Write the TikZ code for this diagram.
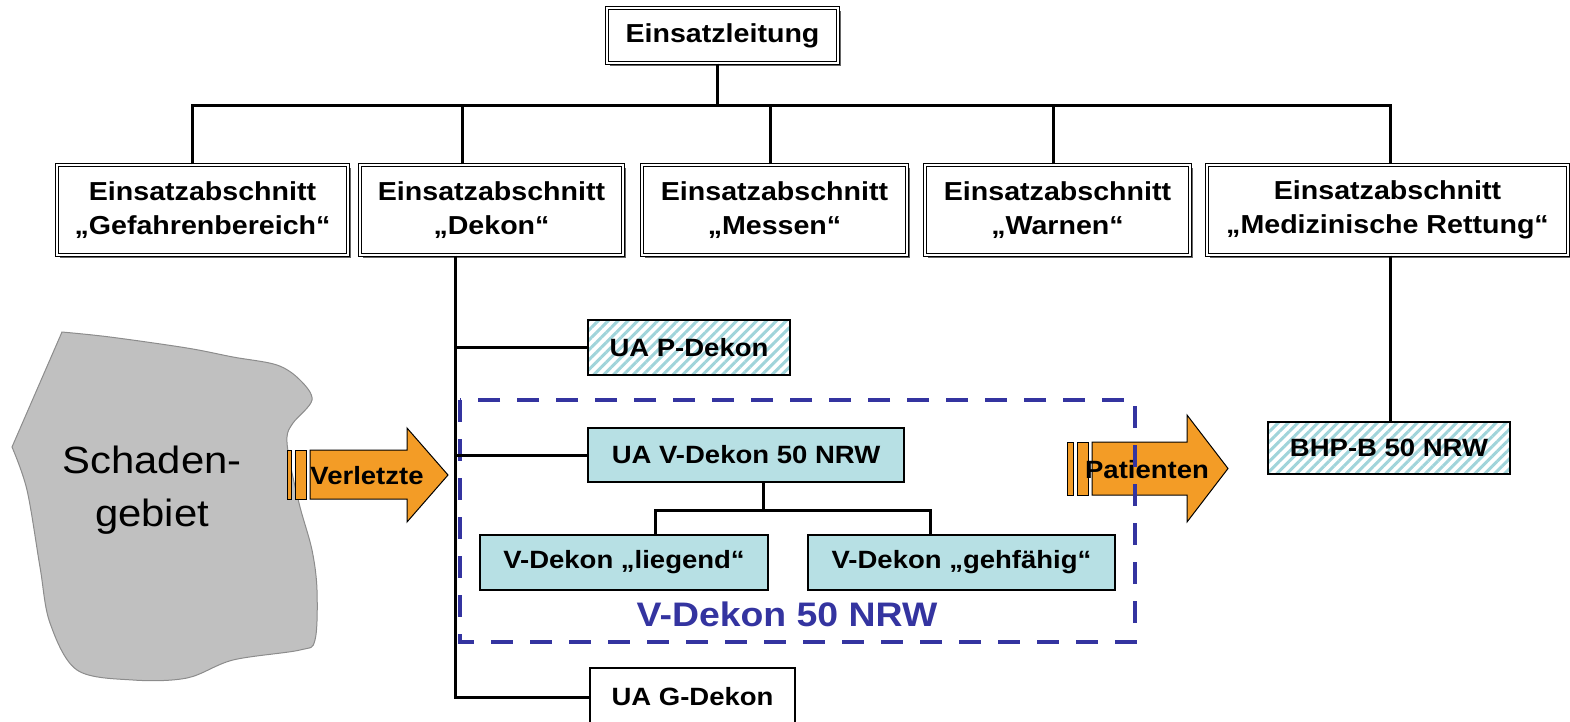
\documentclass[tikz,border=0pt]{standalone}
\usepackage{fontspec}
\setmainfont[FakeStretch=1.1]{Liberation Sans}
\usepackage{tikz}
\usetikzlibrary{patterns.meta,shadows}
\usepackage{xcolor}

\definecolor{uacyan}{RGB}{183,224,228}
\definecolor{hatchcyan}{RGB}{160,212,218}
\definecolor{arroworange}{RGB}{243,156,38}
\definecolor{areagray}{RGB}{192,192,192}
\definecolor{dekonblue}{RGB}{52,52,160}

\tikzset{
  conn/.style={line width=3pt},
  secbox/.style={draw, double=white, double distance=1.2pt, line width=1.2pt, fill=white,
    align=center, inner sep=0pt, font=\bfseries\fontsize{26}{34}\selectfont,
    drop shadow={shadow xshift=3pt, shadow yshift=-3pt, fill=black!60, opacity=1}},
  uabox/.style={draw, line width=1.4pt, fill=uacyan, inner sep=0pt,
    font=\bfseries\fontsize{25}{30}\selectfont},
  hatchbox/.style={uabox, fill=white, pattern={Lines[angle=45, distance=7pt, line width=3pt]},
    pattern color=hatchcyan},
  arrowbody/.style={draw, line width=1pt, fill=arroworange},
  arrowtext/.style={font=\bfseries\fontsize{25}{30}\selectfont, inner sep=0pt}
}

\begin{document}
\begin{tikzpicture}[x=1pt, y=-1pt]
  \useasboundingbox (0,0) rectangle (1570,721);

  % damage area
  \draw[fill=areagray, draw=black!45, line width=1pt] (12,447) -- plot[smooth, tension=0.55] coordinates {
    (62,332) (110,337) (187,348) (233,357) (277,365) (300,380) (312,400) (293,423) (287,437)
    (290,463) (300,507) (312,550) (317,590) (315,640) (300,650) (233,660) (187,678) (133,680)
    (77,670) (50,623) (40,567) (27,490) (12,447)} -- cycle;
  \node[font=\fontsize{38}{53}\selectfont, align=center, inner sep=0pt] (schaden) at (152,490) {Schaden-\\gebiet};

  % arrows
  \draw[arrowbody] (287,450) rectangle (291,499);
  \draw[arrowbody] (295,450) rectangle (306,499);
  \draw[arrowbody] (310,450) -- (407,450) -- (407,428) -- (448,475) -- (407,522) -- (407,499) -- (310,499) -- cycle;
  \node[arrowtext] (verletzte) at (367,476) {Verletzte};

  \draw[arrowbody] (1067,442) rectangle (1073,495);
  \draw[arrowbody] (1077,442) rectangle (1088,495);
  \draw[arrowbody] (1092,442) -- (1187,442) -- (1187,415) -- (1228,468.5) -- (1187,522) -- (1187,495) -- (1092,495) -- cycle;
  \node[arrowtext] (patienten) at (1147,470) {Patienten};

  % V-Dekon frame
  \draw[dekonblue, line width=4pt, dash pattern=on 22pt off 17pt] (460,400) rectangle (1135,642);
  \node[text=dekonblue, font=\bfseries\fontsize{34}{40}\selectfont, inner sep=0pt] (vlabel) at (787,614) {V-Dekon 50 NRW};

  % boxes
  \node[secbox, minimum width=231pt, minimum height=55pt] (leitung) at (722.5,35.5) {Einsatzleitung};
  \node[secbox, minimum width=291pt, minimum height=90pt] (abs1) at (202.5,210) {Einsatzabschnitt\\„Gefahrenbereich“};
  \node[secbox, minimum width=263pt, minimum height=90pt] (abs2) at (491.5,210) {Einsatzabschnitt\\„Dekon“};
  \node[secbox, minimum width=265pt, minimum height=90pt] (abs3) at (774.5,210) {Einsatzabschnitt\\„Messen“};
  \node[secbox, minimum width=265pt, minimum height=90pt] (abs4) at (1057.5,210) {Einsatzabschnitt\\„Warnen“};
  \node[secbox, minimum width=361pt, minimum height=90pt] (abs5) at (1387.5,210) {Einsatzabschnitt\\„Medizinische Rettung“};

  \node[hatchbox, minimum width=202pt, minimum height=55pt] (pdekon) at (689,347.5) {UA P-Dekon};
  \node[uabox, minimum width=316pt, minimum height=54pt] (vdekon) at (746,455) {UA V-Dekon 50 NRW};
  \node[uabox, minimum width=288pt, minimum height=55pt] (liegend) at (624,562.5) {V-Dekon „liegend“};
  \node[uabox, minimum width=307pt, minimum height=55pt] (gehf) at (961.5,562.5) {V-Dekon „gehfähig“};
  \node[uabox, fill=white, minimum width=205pt, minimum height=58pt] (gdekon) at (692.5,697) {UA G-Dekon};
  \node[hatchbox, minimum width=242pt, minimum height=52pt] (bhp) at (1389,448) {BHP-B 50 NRW};

  % tree lines
  \coordinate (bar) at (192,105);
  \coordinate (barend) at (1390,105);
  \draw[conn] ([xshift=-5.5pt]leitung.south) -- ([xshift=-5.5pt]leitung.south |- bar);
  \draw[conn] (abs1.north -| bar) -- (bar) -- (barend) -- (abs5.north -| barend);
  \draw[conn] ([xshift=-29.5pt]abs2.north) -- ([xshift=-29.5pt]abs2.north |- bar);
  \draw[conn] ([xshift=-4.5pt]abs3.north) -- ([xshift=-4.5pt]abs3.north |- bar);
  \draw[conn] ([xshift=-4.5pt]abs4.north) -- ([xshift=-4.5pt]abs4.north |- bar);
  \draw[conn] (abs5.south -| barend) -- (bhp.north -| barend);

  \coordinate (trunk) at ([xshift=-36.5pt]abs2.south);
  \draw[conn] (trunk) |- (gdekon.west);
  \draw[conn] (trunk |- pdekon.west) -- (pdekon.west);
  \draw[conn] (trunk |- vdekon.west) -- (vdekon.west);

  \coordinate (vbar) at (763,510);
  \draw[conn] (vdekon.south -| vbar) -- (vbar);
  \draw[conn] ([xshift=31pt]liegend.north) |- (vbar) -| ([xshift=-31.5pt]gehf.north);
\end{tikzpicture}
\end{document}
